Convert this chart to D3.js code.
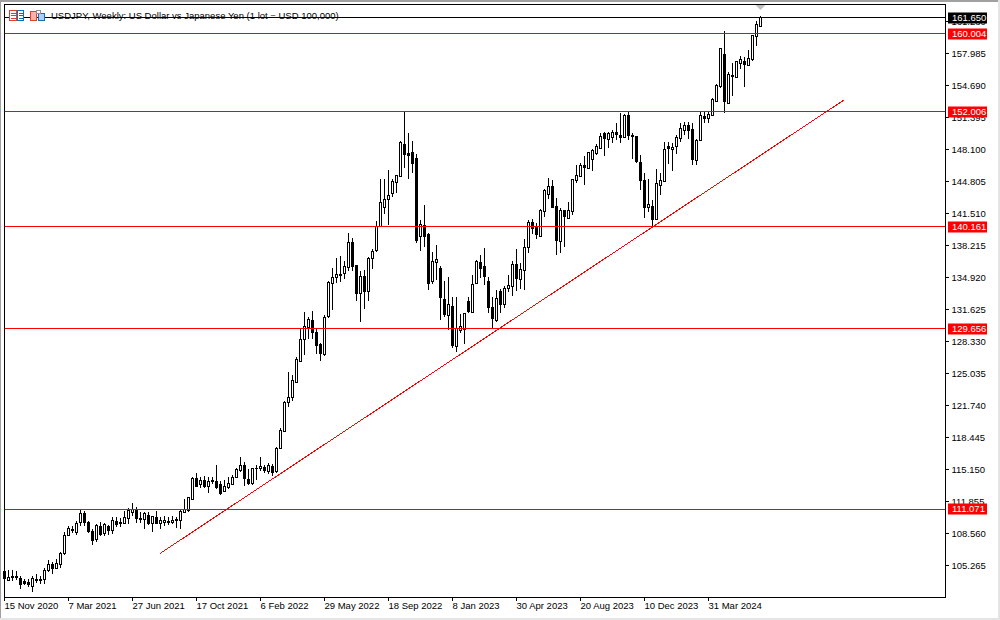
<!DOCTYPE html>
<html>
<head>
<meta charset="utf-8">
<script src="https://cdn.jsdelivr.net/npm/d3@7"></script>
<style>
    html, body { margin: 0; padding: 0; background: #fff; overflow: hidden; }
    text { font-family: "Liberation Sans", sans-serif; font-size: 9.5px; fill: #000; }
</style>
</head>
<body>
<div id="chart"></div>
<script>
'use strict'

const opens = [
    104.60, 103.70, 104.18, 104.18, 103.94, 103.64, 103.53, 103.09, 103.77, 103.84,
    103.81, 104.73, 105.39, 104.94, 105.39, 106.45, 108.34, 109.02, 108.65, 109.68,
    110.64, 109.74, 108.78, 107.96, 109.30, 108.51, 109.33, 108.85, 109.81, 109.71,
    109.61, 110.09, 110.70, 110.95, 110.09, 110.02, 110.46, 109.61, 110.22, 109.57,
    109.71, 109.81, 109.68, 110.05, 109.88, 110.70, 110.91, 112.11, 114.27, 113.59,
    114.04, 113.38, 114.04, 113.93, 113.62, 112.87, 113.25, 113.59, 114.31, 115.00,
    115.61, 114.14, 113.66, 115.30, 115.24, 115.37, 114.93, 115.41, 114.93, 117.33,
    119.08, 122.07, 122.58, 124.06, 126.32, 128.52, 129.79, 130.51, 129.27, 127.97,
    126.97, 130.89, 134.29, 134.94, 135.25, 135.31, 135.97, 138.54, 136.17, 133.29,
    135.04, 133.50, 136.86, 137.68, 140.19, 142.14, 142.97, 143.59, 144.69, 145.34,
    148.63, 147.64, 147.81, 147.19, 139.16, 140.26, 139.37, 134.52, 136.48, 135.86,
    132.67, 131.02, 131.95, 127.80, 129.45, 129.58, 132.50, 131.30, 134.28, 136.48,
    136.10, 134.46, 131.88, 130.54, 133.43, 132.16, 133.77, 133.98, 136.21, 134.70,
    135.62, 138.03, 140.63, 140.09, 139.19, 141.73, 143.48, 144.34, 142.18, 138.64,
    141.80, 140.98, 141.70, 144.89, 145.30, 146.47, 146.16, 147.09, 147.67, 148.22,
    149.70, 149.15, 149.35, 149.87, 149.56, 149.35, 151.55, 149.59, 149.46, 146.78,
    144.93, 142.11, 142.25, 140.91, 144.38, 144.79, 148.36, 148.08, 148.39, 149.22,
    150.04, 150.52, 150.11, 146.95, 148.98, 151.45, 151.27, 151.58, 153.03, 154.57,
    157.93, 152.82, 155.74, 155.53, 156.94, 157.18, 156.73, 157.32, 159.72, 160.75
];

const highs = [
    104.72, 104.80, 104.80, 104.73, 104.18, 103.91, 103.84, 104.18, 104.36, 104.18,
    105.04, 105.80, 105.66, 105.90, 106.69, 108.75, 109.37, 109.37, 109.85, 111.01,
    110.91, 109.85, 108.99, 109.50, 109.74, 109.61, 109.47, 110.26, 110.29, 110.19,
    110.84, 111.19, 111.70, 111.29, 110.81, 110.81, 110.81, 110.36, 110.91, 110.26,
    110.36, 110.22, 110.36, 110.22, 110.98, 112.11, 112.35, 114.41, 114.79, 114.38,
    114.48, 114.38, 114.41, 115.61, 113.97, 114.04, 114.34, 114.58, 115.27, 116.44,
    115.89, 115.17, 115.34, 115.65, 116.44, 115.65, 115.82, 115.75, 117.47, 119.39,
    122.17, 125.19, 124.85, 126.70, 129.58, 131.37, 130.82, 131.47, 129.69, 128.14,
    131.06, 134.56, 135.86, 136.89, 137.13, 136.58, 139.47, 138.95, 136.21, 135.59,
    135.69, 137.06, 137.82, 140.77, 145.06, 145.06, 145.95, 145.06, 145.51, 148.98,
    152.00, 149.80, 148.94, 147.60, 140.84, 142.35, 139.47, 137.55, 138.23, 136.14,
    134.52, 135.00, 132.88, 132.95, 131.16, 131.23, 132.95, 135.18, 136.72, 137.24,
    137.96, 135.01, 132.95, 133.63, 133.77, 134.04, 135.21, 136.58, 137.85, 136.38,
    138.88, 140.84, 140.98, 140.50, 141.94, 144.00, 145.13, 144.96, 143.07, 142.04,
    141.83, 142.73, 145.06, 146.50, 146.67, 147.43, 147.88, 148.12, 148.63, 149.76,
    149.90, 149.90, 150.11, 150.86, 151.82, 151.75, 151.96, 149.76, 149.52, 147.53,
    145.65, 145.03, 142.90, 146.09, 145.65, 148.84, 148.84, 148.73, 149.63, 150.86,
    150.90, 150.90, 150.79, 149.18, 151.99, 151.96, 151.99, 153.44, 154.81, 158.52,
    160.30, 156.12, 156.97, 157.25, 157.73, 157.59, 158.34, 159.89, 161.33, 161.85
];

const lows = [
    103.77, 103.65, 103.70, 103.77, 102.88, 103.22, 103.09, 102.54, 103.43, 103.33,
    103.36, 104.60, 104.39, 104.90, 104.97, 106.35, 108.30, 108.61, 108.40, 109.33,
    109.33, 108.65, 107.38, 107.72, 108.30, 108.30, 108.40, 108.51, 109.20, 109.20,
    109.54, 109.54, 110.36, 109.61, 109.61, 109.06, 109.44, 108.75, 109.54, 108.99,
    109.33, 109.44, 109.54, 109.09, 109.02, 110.64, 110.81, 112.01, 113.35, 113.28,
    113.25, 112.73, 113.62, 113.11, 112.56, 112.84, 113.14, 113.55, 114.28, 114.93,
    113.45, 113.55, 113.55, 114.07, 114.96, 114.82, 114.69, 114.48, 114.82, 117.26,
    119.01, 121.55, 122.20, 124.02, 126.25, 126.94, 128.62, 128.55, 127.08, 126.36,
    126.87, 130.78, 131.57, 134.32, 134.42, 134.80, 135.62, 135.62, 132.53, 130.37,
    131.68, 132.53, 135.83, 137.58, 140.15, 141.46, 140.33, 143.24, 143.59, 145.27,
    146.20, 145.10, 145.71, 138.51, 137.68, 138.10, 133.63, 134.21, 134.63, 130.54,
    130.89, 129.55, 127.63, 127.21, 129.17, 128.07, 131.30, 131.23, 134.21, 134.90,
    134.11, 131.23, 129.69, 130.37, 131.23, 131.75, 133.46, 133.02, 133.56, 133.74,
    133.63, 137.48, 139.40, 138.85, 139.06, 141.18, 142.97, 142.08, 137.27, 137.41,
    138.10, 140.91, 141.36, 144.69, 145.23, 144.48, 146.06, 145.92, 147.53, 148.12,
    147.46, 148.22, 148.80, 149.04, 148.73, 149.32, 149.08, 147.16, 146.67, 143.93,
    141.01, 141.70, 140.15, 140.84, 143.42, 144.75, 146.61, 145.89, 147.64, 148.90,
    149.59, 149.15, 146.54, 146.54, 148.94, 150.86, 150.83, 151.55, 152.99, 154.47,
    151.89, 152.79, 153.61, 155.46, 156.42, 154.54, 156.70, 157.25, 158.76, 160.75
];

const closes = [
    103.90, 104.05, 104.05, 103.98, 103.29, 103.46, 103.26, 103.94, 103.87, 103.70,
    104.77, 105.39, 104.94, 105.49, 106.52, 108.37, 109.09, 108.85, 109.61, 110.64,
    109.68, 108.78, 107.82, 109.40, 108.47, 109.44, 108.92, 109.85, 109.44, 109.61,
    110.22, 110.88, 111.05, 110.09, 110.02, 110.57, 109.64, 110.26, 109.61, 109.85,
    109.92, 109.71, 109.92, 109.92, 110.81, 111.05, 112.28, 114.24, 113.45, 114.04,
    113.35, 113.93, 113.93, 113.25, 112.73, 113.42, 113.72, 114.34, 115.20, 115.58,
    114.21, 113.66, 115.27, 115.24, 115.48, 115.00, 115.61, 114.82, 117.33, 119.18,
    122.07, 122.58, 124.33, 126.49, 128.55, 129.86, 130.61, 129.27, 127.94, 127.08,
    130.82, 134.42, 134.94, 135.25, 135.14, 136.07, 138.54, 136.04, 133.29, 135.04,
    133.46, 136.89, 137.61, 140.19, 142.66, 142.97, 143.38, 144.82, 145.44, 148.84,
    147.60, 147.50, 146.67, 138.78, 140.36, 139.16, 134.28, 136.58, 136.79, 132.88,
    131.09, 132.16, 127.87, 129.69, 129.89, 131.23, 131.40, 134.22, 136.58, 135.83,
    135.01, 131.78, 130.68, 132.77, 132.12, 133.80, 134.11, 136.31, 134.80, 135.76,
    138.03, 140.63, 139.95, 139.33, 141.87, 143.83, 144.31, 142.11, 138.78, 141.83,
    141.18, 141.83, 145.03, 145.44, 146.50, 146.23, 147.84, 147.95, 148.46, 149.39,
    149.21, 149.70, 149.87, 149.66, 149.35, 151.62, 149.53, 149.46, 146.85, 144.93,
    142.11, 142.45, 140.94, 144.62, 144.93, 148.15, 148.19, 148.29, 149.35, 150.28,
    150.59, 150.04, 147.02, 149.04, 151.55, 151.27, 151.73, 153.27, 154.71, 158.45,
    153.03, 155.84, 155.60, 157.11, 157.32, 156.84, 157.49, 159.86, 161.02, 161.65
];

// Labelled bars on the time axis.
const dateBars = [0, 16, 32, 48, 64, 80, 96, 112, 128, 144, 160, 176];
const dateLabels = ['15 Nov 2020', '7 Mar 2021', '27 Jun 2021', '17 Oct 2021', '6 Feb 2022', '29 May 2022',
    '18 Sep 2022', '8 Jan 2023', '30 Apr 2023', '20 Aug 2023', '10 Dec 2023', '31 Mar 2024'];

const priceTicks = [161.280, 157.985, 154.690, 151.395, 148.100, 144.805, 141.510, 138.215, 134.920,
    131.625, 128.330, 125.035, 121.740, 118.445, 115.150, 111.855, 108.560, 105.265];

const levels = [160.004, 152.006, 140.161, 129.656, 111.071];
const lastPrice = 161.650;

// Trend line anchors, in bars and prices.
const trendBars = [38.875, 209.875];
const trendPrices = [106.50, 153.20];

const title = 'USDJPY, Weekly:  US Dollar vs Japanese Yen (1 lot = USD 100,000)';

const red = '#ff0000';

const svg = d3.select('#chart')
    .append('svg')
    .attr('width', 1000)
    .attr('height', 620)
    .style('display', 'block');

// Window edges.
svg.append('rect').attr('width', 1000).attr('height', 2).attr('fill', '#a0a0a0');
svg.append('rect').attr('width', 1).attr('height', 620).attr('fill', '#a0a0a0');
svg.append('rect').attr('x', 998).attr('width', 2).attr('height', 620).attr('fill', '#e4e4e4');
svg.append('rect').attr('y', 618).attr('width', 1000).attr('height', 2).attr('fill', '#e4e4e4');

const x = d3.scaleLinear().domain([0, 189]).range([4.5, 760.5]);
const y = d3.scaleLinear().domain([105.265, 157.985]).range([565.5, 53.5]);

// Time axis.
const xAxis = d3.axisBottom(x)
    .tickValues(dateBars)
    .tickSize(3)
    .tickSizeOuter(0)
    .offset(0)
    .tickFormat((d, i) => dateLabels[i]);

const xG = svg.append('g')
    .attr('transform', 'translate(0,597.5)')
    .call(xAxis);
xG.select('.domain').remove();
xG.selectAll('.tick line').attr('stroke', '#000').attr('shape-rendering', 'crispEdges');
xG.selectAll('.tick text')
    .attr('y', 5)
    .attr('dy', '0.71em')
    .style('text-anchor', 'start')
    .style('font-family', '"Liberation Sans", sans-serif')
    .style('font-size', '9.5px');

// Price axis.
const yAxis = d3.axisRight(y)
    .tickValues(priceTicks)
    .tickSize(3)
    .tickSizeOuter(0)
    .tickPadding(3)
    .offset(0)
    .tickFormat(d3.format('.3f'));

const yG = svg.append('g')
    .attr('transform', 'translate(945.5,0)')
    .call(yAxis);
yG.select('.domain').remove();
yG.selectAll('.tick line').attr('stroke', '#000').attr('shape-rendering', 'crispEdges');
yG.selectAll('.tick text')
    .style('font-family', '"Liberation Sans", sans-serif')
    .style('font-size', '9.5px');

// Candles.
const candles = svg.append('g')
    .attr('shape-rendering', 'crispEdges')
    .selectAll('g')
    .data(d3.range(opens.length))
    .join('g');

candles.append('line')
    .attr('x1', i => x(i))
    .attr('x2', i => x(i))
    .attr('y1', i => y(highs[i]))
    .attr('y2', i => y(lows[i]))
    .attr('stroke', '#000');

candles.append('rect')
    .attr('x', i => x(i) - 1)
    .attr('width', 2)
    .attr('y', i => y(Math.max(opens[i], closes[i])))
    .attr('height', i => Math.abs(y(opens[i]) - y(closes[i])))
    .attr('fill', i => closes[i] >= opens[i] ? '#fff' : '#000')
    .attr('stroke', '#000');

// Horizontal levels and the trend line.
const lines = svg.append('g').attr('shape-rendering', 'crispEdges');

lines.selectAll('line.level')
    .data(levels)
    .join('line')
    .attr('class', 'level')
    .attr('x1', 4.5)
    .attr('x2', 945.5)
    .attr('y1', d => y(d))
    .attr('y2', d => y(d))
    .attr('stroke', red);

lines.append('line')
    .attr('x1', x(trendBars[0]))
    .attr('y1', y(trendPrices[0]))
    .attr('x2', x(trendBars[1]))
    .attr('y2', y(trendPrices[1]))
    .attr('stroke', red);

lines.append('line')
    .attr('x1', 4.5)
    .attr('x2', 945.5)
    .attr('y1', y(lastPrice))
    .attr('y2', y(lastPrice))
    .attr('stroke', '#000');

// Chart frame.
svg.append('rect')
    .attr('x', 4.5)
    .attr('y', 4.5)
    .attr('width', 941)
    .attr('height', 593)
    .attr('fill', 'none')
    .attr('stroke', '#000')
    .attr('shape-rendering', 'crispEdges');

// Marker above the last bar.
svg.append('path')
    .attr('d', `M${x(189) - 5},5 h10 l-5,5 z`)
    .attr('fill', '#c0c0c0');

// Price tags on the axis.
const tags = svg.append('g')
    .selectAll('g')
    .data(levels.map(d => ({value: d, color: red})).concat([{value: lastPrice, color: '#000'}]))
    .join('g')
    .attr('transform', d => `translate(948,${Math.round(y(d.value))})`);

tags.append('rect')
    .attr('y', -5.5)
    .attr('width', 39)
    .attr('height', 11)
    .attr('fill', d => d.color);

tags.append('text')
    .attr('x', 4)
    .attr('dy', '0.34em')
    .style('fill', '#fff')
    .text(d => d3.format('.3f')(d.value));

// One-click trading icons in the corner.
const icons = svg.append('g').attr('shape-rendering', 'crispEdges');
icons.append('rect').attr('x', 9.5).attr('y', 10.5).attr('width', 7).attr('height', 10)
    .attr('fill', '#fff').attr('stroke', '#e04030');
icons.append('rect').attr('x', 17.5).attr('y', 10.5).attr('width', 6).attr('height', 10)
    .attr('fill', '#fff').attr('stroke', '#1070b8');
[13, 15.5, 18].forEach(t => {
    icons.append('line').attr('x1', 11).attr('x2', 16).attr('y1', t).attr('y2', t).attr('stroke', '#e04030');
    icons.append('line').attr('x1', 19).attr('x2', 23).attr('y1', t).attr('y2', t).attr('stroke', '#1070b8');
});
icons.append('rect').attr('x', 30.5).attr('y', 11.5).attr('width', 6).attr('height', 9)
    .attr('fill', '#ffb0a8').attr('stroke', '#e04030');
icons.append('rect').attr('x', 38.5).attr('y', 13.5).attr('width', 6).attr('height', 7)
    .attr('fill', '#a8d0f0').attr('stroke', '#1070b8');
icons.append('rect').attr('x', 36.5).attr('y', 10.5).attr('width', 4).attr('height', 3)
    .attr('fill', '#fff').attr('stroke', '#909090');

// Title sits on top of the last-price line.
svg.append('text')
    .attr('x', 51)
    .attr('y', 19)
    .style('font-size', '9.5px')
    .text(title);
</script>
</body>
</html>
